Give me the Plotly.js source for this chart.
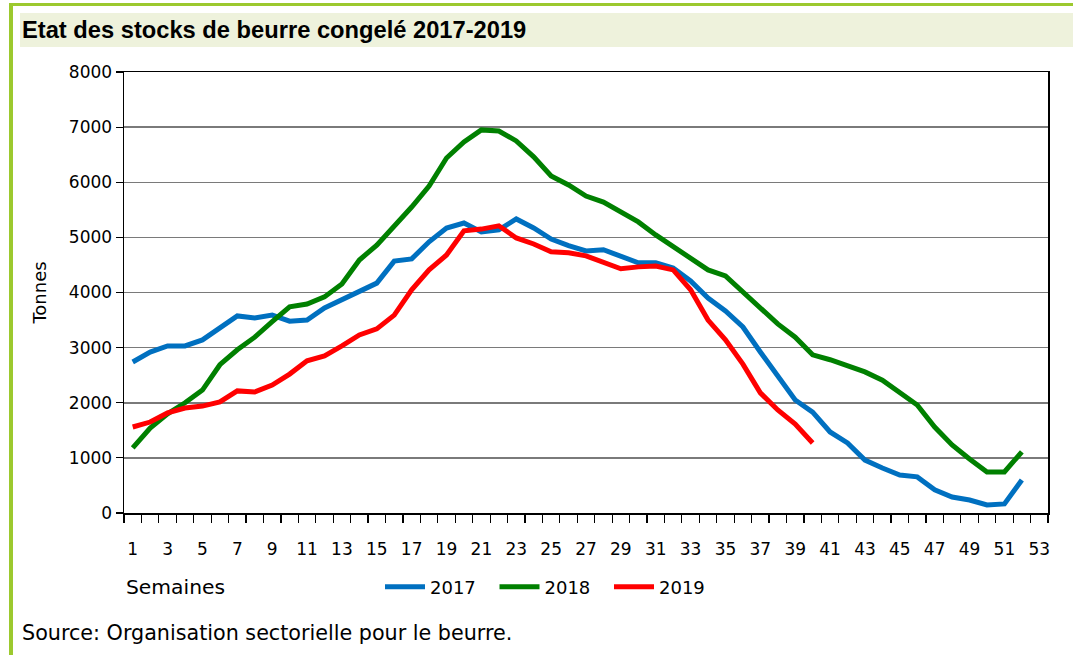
<!DOCTYPE html>
<html>
<head>
<meta charset="utf-8">
<script src="https://cdn.plot.ly/plotly-3.0.1.min.js"></script>
<style>
  html, body { margin: 0; padding: 0; background: #ffffff; }
  #wrap { position: relative; width: 1073px; height: 655px; overflow: hidden; }
  #frameLeft { position: absolute; left: 9px; top: 3px; width: 4px; height: 652px; background: #9cc92e; }
  #frameTop { position: absolute; left: 9px; top: 3px; width: 1064px; height: 3px; background: #9cc92e; }
  #band { position: absolute; left: 20px; top: 13px; width: 1053px; height: 34px; background: #eef2dc; }
  #chart { position: absolute; left: 0; top: 0; width: 1073px; height: 655px; }
</style>
</head>
<body>
<div id="wrap">
  <div id="frameLeft"></div>
  <div id="frameTop"></div>
  <div id="band"></div>
  <div id="chart"></div>
</div>
<script>
const weeks = Array.from({length: 52}, (_, i) => i + 1);
const weeks2019 = weeks.slice(0, 40);

const stock2017 = [2740, 2920, 3030, 3030, 3140, 3360, 3575, 3540, 3590, 3480,
                   3500, 3720, 3865, 4010, 4170, 4570, 4610, 4920, 5170, 5260,
                   5100, 5135, 5335, 5170, 4970, 4850, 4755, 4775, 4665, 4540,
                   4540, 4445, 4210, 3900, 3665, 3375, 2920, 2485, 2050, 1830,
                   1470, 1270, 960, 815, 690, 655, 420, 290, 235, 145,
                   165, 600];
const stock2018 = [1180, 1540, 1800, 2000, 2230, 2690, 2960, 3190, 3470, 3740,
                   3790, 3920, 4155, 4590, 4860, 5190, 5550, 5930, 6440, 6730,
                   6950, 6930, 6750, 6460, 6115, 5950, 5750, 5640, 5460, 5280,
                   5045, 4830, 4610, 4410, 4300, 4010, 3720, 3430, 3190, 2870,
                   2780, 2670, 2560, 2410, 2195, 1960, 1560, 1235, 980, 745,
                   745, 1110];
const stock2019 = [1560, 1650, 1815, 1905, 1940, 2015, 2215, 2195, 2320, 2520,
                   2760, 2850, 3030, 3230, 3340, 3590, 4050, 4410, 4680, 5120,
                   5150, 5210, 4990, 4880, 4740, 4720, 4665, 4555, 4430, 4465,
                   4480, 4410, 4050, 3500, 3140, 2700, 2180, 1870, 1615, 1270];

const xTickVals = [1,3,5,7,9,11,13,15,17,19,21,23,25,27,29,31,33,35,37,39,41,43,45,47,49,51,53];
const xTickText = xTickVals.map(String);
const yTickVals = [0,1000,2000,3000,4000,5000,6000,7000,8000];

const FONT = "DejaVu Sans, Arial, sans-serif";

const traces = [
  {x: weeks, y: stock2017, name: "2017", type: "scatter", mode: "lines",
   line: {color: "#0070c0", width: 5}},
  {x: weeks, y: stock2018, name: "2018", type: "scatter", mode: "lines",
   line: {color: "#008000", width: 5}},
  {x: weeks2019, y: stock2019, name: "2019", type: "scatter", mode: "lines",
   line: {color: "#ff0000", width: 5}}
];

const layout = {
  width: 1073, height: 655,
  paper_bgcolor: "rgba(0,0,0,0)",
  plot_bgcolor: "#ffffff",
  margin: {l: 124, r: 25, t: 72, b: 142},
  font: {family: FONT, size: 17, color: "#000"},
  title: {
    text: "<b>Etat des stocks de beurre congelé 2017-2019</b>",
    font: {family: "Liberation Sans, Arial, sans-serif", size: 23.7, color: "#000"},
    xref: "container", yref: "container",
    x: 22/1073, xanchor: "left",
    y: 1 - 30/655, yanchor: "middle"
  },
  xaxis: {
    range: [0.5, 53.5],
    tickmode: "array", tickvals: xTickVals, ticktext: xTickText,
    ticks: "",
    ticklabelstandoff: 20,
    showgrid: false, zeroline: false,
    showline: true, linecolor: "#000", linewidth: 1.5, mirror: true,
    tickfont: {family: FONT, size: 17, color: "#000"},
    minor: {tick0: 0.5, dtick: 1, ticks: "outside", ticklen: 8, tickcolor: "#000", tickwidth: 1.2, showgrid: false}
  },
  yaxis: {
    range: [0, 8000],
    tickmode: "array", tickvals: yTickVals,
    ticks: "outside", ticklen: 7, tickcolor: "#000", tickwidth: 1.2,
    showgrid: true, gridcolor: "#7a7a7a", gridwidth: 1.5,
    zeroline: false,
    showline: true, linecolor: "#000", linewidth: 1.5, mirror: true,
    tickfont: {family: FONT, size: 17, color: "#000"},
    title: {text: "Tonnes", font: {family: FONT, size: 18, color: "#000"}, standoff: 17}
  },
  showlegend: true,
  legend: {
    orientation: "h",
    x: (380 - 124) / 924, xanchor: "left",
    y: (513 - 587) / 441, yanchor: "middle",
    font: {family: FONT, size: 18, color: "#000"},
    bgcolor: "rgba(0,0,0,0)",
    entrywidth: 59.5,
    itemwidth: 40
  },
  annotations: [
    {text: "Semaines", xref: "paper", yref: "paper",
     x: 0, y: (513 - 587) / 441, xanchor: "left", yanchor: "middle",
     showarrow: false, font: {family: FONT, size: 20.3, color: "#000"}},
    {text: "Source: Organisation sectorielle pour le beurre.", xref: "paper", yref: "paper",
     x: (20 - 124) / 924, y: (513 - 633) / 441, xanchor: "left", yanchor: "middle",
     showarrow: false, font: {family: FONT, size: 20.7, color: "#000"}}
  ]
};

Plotly.newPlot("chart", traces, layout, {displayModeBar: false, staticPlot: true});
</script>
</body>
</html>
